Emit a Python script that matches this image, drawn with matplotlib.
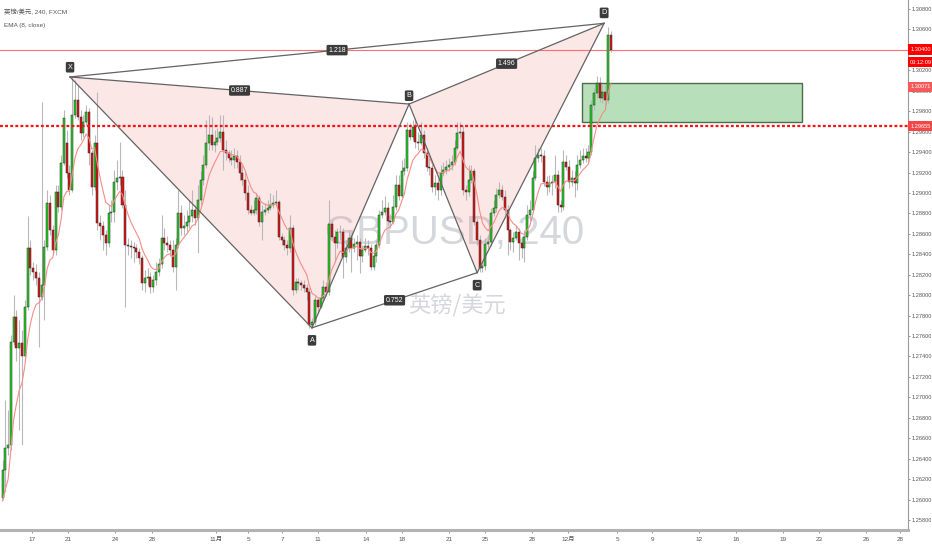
import numpy as np
import matplotlib.pyplot as plt
import matplotlib.transforms as mtransforms
from matplotlib.patches import Polygon, Rectangle

plt.rcParams['font.family'] = ['Liberation Sans', 'Noto Sans CJK SC']

# ---- 4h candles (GBPUSD, FXCM) ----
opens = [1.2602, 1.2629, 1.2650, 1.2653, 1.2754, 1.2779, 1.2748, 1.2753, 1.2740, 1.2788,
         1.2846, 1.2827, 1.2823, 1.2817, 1.2798, 1.2810, 1.2847, 1.2890, 1.2864, 1.2844,
         1.2901, 1.2886, 1.2929, 1.2949, 1.2920, 1.2903, 1.2976, 1.2991, 1.2974, 1.2959,
         1.2969, 1.2979, 1.2939, 1.2906, 1.2949, 1.2871, 1.2868, 1.2859, 1.2851, 1.2880,
         1.2881, 1.2911, 1.2915, 1.2916, 1.2888, 1.2849, 1.2848, 1.2847, 1.2846, 1.2842,
         1.2836, 1.2812, 1.2817, 1.2818, 1.2808, 1.2815, 1.2823, 1.2830, 1.2856, 1.2851,
         1.2849, 1.2844, 1.2828, 1.2849, 1.2880, 1.2866, 1.2868, 1.2872, 1.2877, 1.2883,
         1.2875, 1.2893, 1.2913, 1.2927, 1.2949, 1.2957, 1.2947, 1.2950, 1.2954, 1.2960,
         1.2942, 1.2939, 1.2934, 1.2932, 1.2936, 1.2930, 1.2920, 1.2913, 1.2900, 1.2883,
         1.2880, 1.2883, 1.2895, 1.2872, 1.2881, 1.2883, 1.2885, 1.2888, 1.2890, 1.2891,
         1.2857, 1.2854, 1.2849, 1.2846, 1.2866, 1.2805, 1.2813, 1.2812, 1.2810, 1.2807,
         1.2803, 1.2771, 1.2774, 1.2795, 1.2788, 1.2797, 1.2808, 1.2803, 1.2870, 1.2857,
         1.2851, 1.2862, 1.2862, 1.2837, 1.2846, 1.2856, 1.2846, 1.2850, 1.2852, 1.2838,
         1.2844, 1.2848, 1.2846, 1.2828, 1.2838, 1.2849, 1.2878, 1.2881, 1.2885, 1.2873,
         1.2872, 1.2886, 1.2908, 1.2897, 1.2921, 1.2924, 1.2962, 1.2955, 1.2965, 1.2950,
         1.2949, 1.2957, 1.2939, 1.2925, 1.2924, 1.2906, 1.2910, 1.2903, 1.2920, 1.2922,
         1.2925, 1.2927, 1.2930, 1.2944, 1.2959, 1.2960, 1.2903, 1.2901, 1.2913, 1.2921,
         1.2872, 1.2854, 1.2827, 1.2829, 1.2850, 1.2852, 1.2880, 1.2885, 1.2898, 1.2903,
         1.2896, 1.2883, 1.2864, 1.2852, 1.2856, 1.2862, 1.2851, 1.2846, 1.2857, 1.2878,
         1.2883, 1.2915, 1.2934, 1.2937, 1.2936, 1.2911, 1.2906, 1.2910, 1.2911, 1.2918,
         1.2888, 1.2886, 1.2930, 1.2925, 1.2911, 1.2915, 1.2910, 1.2927, 1.2932, 1.2936,
         1.2934, 1.2940, 1.2986, 1.2998, 1.3008, 1.2993, 1.2999, 1.2991, 1.3055]
closes = [1.2629, 1.2650, 1.2653, 1.2754, 1.2779, 1.2748, 1.2753, 1.2740, 1.2788, 1.2846,
          1.2827, 1.2823, 1.2817, 1.2798, 1.2810, 1.2847, 1.2890, 1.2864, 1.2844, 1.2901,
          1.2886, 1.2929, 1.2973, 1.2920, 1.2903, 1.2976, 1.2991, 1.2974, 1.2959, 1.2969,
          1.2979, 1.2939, 1.2906, 1.2949, 1.2871, 1.2868, 1.2859, 1.2851, 1.2880, 1.2881,
          1.2911, 1.2915, 1.2916, 1.2888, 1.2849, 1.2848, 1.2847, 1.2846, 1.2842, 1.2836,
          1.2812, 1.2817, 1.2818, 1.2808, 1.2815, 1.2823, 1.2830, 1.2856, 1.2851, 1.2849,
          1.2844, 1.2828, 1.2849, 1.2880, 1.2866, 1.2868, 1.2872, 1.2877, 1.2883, 1.2875,
          1.2893, 1.2913, 1.2927, 1.2949, 1.2957, 1.2947, 1.2950, 1.2954, 1.2960, 1.2942,
          1.2939, 1.2934, 1.2932, 1.2936, 1.2930, 1.2920, 1.2913, 1.2900, 1.2883, 1.2880,
          1.2883, 1.2895, 1.2872, 1.2881, 1.2883, 1.2885, 1.2888, 1.2890, 1.2891, 1.2857,
          1.2854, 1.2849, 1.2846, 1.2866, 1.2805, 1.2813, 1.2812, 1.2810, 1.2807, 1.2803,
          1.2771, 1.2774, 1.2795, 1.2788, 1.2797, 1.2808, 1.2803, 1.2870, 1.2857, 1.2851,
          1.2862, 1.2862, 1.2837, 1.2846, 1.2856, 1.2846, 1.2850, 1.2852, 1.2838, 1.2844,
          1.2848, 1.2846, 1.2828, 1.2838, 1.2849, 1.2878, 1.2881, 1.2885, 1.2873, 1.2872,
          1.2886, 1.2908, 1.2897, 1.2921, 1.2924, 1.2962, 1.2955, 1.2965, 1.2950, 1.2949,
          1.2957, 1.2939, 1.2925, 1.2924, 1.2906, 1.2910, 1.2903, 1.2920, 1.2922, 1.2925,
          1.2927, 1.2930, 1.2944, 1.2959, 1.2960, 1.2903, 1.2901, 1.2913, 1.2921, 1.2872,
          1.2854, 1.2827, 1.2829, 1.2850, 1.2852, 1.2880, 1.2885, 1.2898, 1.2903, 1.2896,
          1.2883, 1.2864, 1.2852, 1.2856, 1.2862, 1.2851, 1.2846, 1.2857, 1.2878, 1.2883,
          1.2915, 1.2934, 1.2937, 1.2936, 1.2911, 1.2906, 1.2910, 1.2911, 1.2918, 1.2888,
          1.2886, 1.2930, 1.2925, 1.2911, 1.2915, 1.2910, 1.2927, 1.2932, 1.2936, 1.2934,
          1.2940, 1.2986, 1.2998, 1.3008, 1.2993, 1.2999, 1.2991, 1.3055, 1.3040]
highs = [1.2639, 1.2697, 1.2688, 1.2761, 1.2800, 1.2785, 1.2776, 1.2766, 1.2795, 1.2877,
         1.2854, 1.2832, 1.2830, 1.2823, 1.2989, 1.2854, 1.2903, 1.2898, 1.2869, 1.2908,
         1.2908, 1.2937, 1.2981, 1.2962, 1.2927, 1.3013, 1.3011, 1.3006, 1.2981, 1.2976,
         1.2986, 1.2983, 1.2942, 1.2957, 1.2999, 1.2878, 1.2873, 1.2864, 1.2888, 1.2893,
         1.2922, 1.2932, 1.2950, 1.2922, 1.2903, 1.2856, 1.2854, 1.2852, 1.2850, 1.2846,
         1.2839, 1.2825, 1.2827, 1.2823, 1.2820, 1.2832, 1.2836, 1.2878, 1.2866, 1.2858,
         1.2854, 1.2854, 1.2856, 1.2903, 1.2888, 1.2878, 1.2883, 1.2893, 1.2903, 1.2888,
         1.2908, 1.2921, 1.2937, 1.2971, 1.2976, 1.2974, 1.2962, 1.2964, 1.2976, 1.2976,
         1.2952, 1.2942, 1.2942, 1.2944, 1.2942, 1.2937, 1.2927, 1.2921, 1.2908, 1.2888,
         1.2893, 1.2900, 1.2898, 1.2888, 1.2890, 1.2893, 1.2900, 1.2898, 1.2903, 1.2893,
         1.2861, 1.2858, 1.2854, 1.2878, 1.2869, 1.2817, 1.2817, 1.2815, 1.2815, 1.2811,
         1.2807, 1.2778, 1.2799, 1.2797, 1.2801, 1.2815, 1.2813, 1.2893, 1.2873, 1.2864,
         1.2866, 1.2869, 1.2866, 1.2854, 1.2864, 1.2859, 1.2856, 1.2859, 1.2856, 1.2849,
         1.2856, 1.2854, 1.2850, 1.2844, 1.2854, 1.2883, 1.2893, 1.2897, 1.2891, 1.2879,
         1.2898, 1.2918, 1.2918, 1.2932, 1.2934, 1.2969, 1.2968, 1.2971, 1.2973, 1.2960,
         1.2969, 1.2962, 1.2944, 1.2934, 1.2929, 1.2918, 1.2915, 1.2927, 1.2930, 1.2932,
         1.2934, 1.2937, 1.2952, 1.2969, 1.2969, 1.2966, 1.2908, 1.2927, 1.2927, 1.2924,
         1.2875, 1.2859, 1.2832, 1.2856, 1.2859, 1.2885, 1.2893, 1.2905, 1.2911, 1.2908,
         1.2903, 1.2888, 1.2866, 1.2862, 1.2869, 1.2866, 1.2856, 1.2864, 1.2888, 1.2893,
         1.2921, 1.2947, 1.2944, 1.2944, 1.2942, 1.2917, 1.2918, 1.2918, 1.2937, 1.2922,
         1.2893, 1.2942, 1.2937, 1.2932, 1.2922, 1.2921, 1.2937, 1.2942, 1.2944, 1.2944,
         1.2947, 1.2991, 1.3003, 1.3014, 1.3013, 1.3006, 1.3006, 1.3062, 1.3058]
lows = [1.2600, 1.2607, 1.2644, 1.2648, 1.2751, 1.2736, 1.2668, 1.2653, 1.2736, 1.2785,
        1.2820, 1.2815, 1.2810, 1.2749, 1.2795, 1.2776, 1.2844, 1.2859, 1.2839, 1.2839,
        1.2881, 1.2883, 1.2927, 1.2915, 1.2898, 1.2901, 1.2973, 1.2971, 1.2952, 1.2955,
        1.2966, 1.2927, 1.2898, 1.2903, 1.2864, 1.2854, 1.2844, 1.2839, 1.2847, 1.2872,
        1.2872, 1.2903, 1.2908, 1.2885, 1.2788, 1.2839, 1.2836, 1.2832, 1.2836, 1.2830,
        1.2805, 1.2803, 1.2810, 1.2802, 1.2803, 1.2810, 1.2819, 1.2827, 1.2844, 1.2842,
        1.2838, 1.2823, 1.2805, 1.2846, 1.2859, 1.2859, 1.2862, 1.2866, 1.2872, 1.2869,
        1.2841, 1.2888, 1.2908, 1.2924, 1.2942, 1.2942, 1.2940, 1.2947, 1.2950, 1.2922,
        1.2932, 1.2930, 1.2927, 1.2924, 1.2924, 1.2913, 1.2908, 1.2893, 1.2879, 1.2878,
        1.2878, 1.2879, 1.2868, 1.2854, 1.2878, 1.2880, 1.2883, 1.2885, 1.2887, 1.2854,
        1.2849, 1.2844, 1.2839, 1.2842, 1.2800, 1.2802, 1.2805, 1.2805, 1.2803, 1.2795,
        1.2768, 1.2769, 1.2771, 1.2783, 1.2787, 1.2795, 1.2799, 1.2800, 1.2854, 1.2832,
        1.2846, 1.2854, 1.2817, 1.2832, 1.2842, 1.2823, 1.2842, 1.2834, 1.2822, 1.2832,
        1.2842, 1.2839, 1.2825, 1.2825, 1.2832, 1.2846, 1.2875, 1.2878, 1.2869, 1.2866,
        1.2870, 1.2883, 1.2893, 1.2895, 1.2918, 1.2921, 1.2952, 1.2952, 1.2944, 1.2942,
        1.2947, 1.2934, 1.2921, 1.2918, 1.2901, 1.2898, 1.2893, 1.2898, 1.2917, 1.2919,
        1.2921, 1.2922, 1.2927, 1.2942, 1.2954, 1.2898, 1.2893, 1.2897, 1.2910, 1.2869,
        1.2849, 1.2823, 1.2823, 1.2825, 1.2846, 1.2848, 1.2877, 1.2881, 1.2895, 1.2893,
        1.2878, 1.2839, 1.2844, 1.2842, 1.2854, 1.2834, 1.2836, 1.2832, 1.2854, 1.2873,
        1.2881, 1.2913, 1.2930, 1.2930, 1.2907, 1.2898, 1.2901, 1.2898, 1.2905, 1.2881,
        1.2881, 1.2883, 1.2922, 1.2905, 1.2907, 1.2896, 1.2903, 1.2924, 1.2929, 1.2930,
        1.2930, 1.2937, 1.2981, 1.2993, 1.2989, 1.2988, 1.2981, 1.2988, 1.3038]
ema_start = 1.2590   # EMA(8) value just before the first visible bar

# date axis (bar index of each day label)
tick_pos = [10.6, 23.5, 40.3, 53.6, 76.5, 88.0, 100.2, 113.1, 130.3, 143.2, 160.0,
            172.9, 189.8, 202.7, 220.3, 232.8, 249.6, 262.9, 279.8, 292.7, 309.5, 321.7]
tick_labels = ['17', '21', '24', '28', '11月', '5', '7', '11', '14', '18', '21',
               '25', '28', '12月', '5', '9', '12', '16', '19', '23', '26', '28']
price_ticks = [1.258 + 0.002 * k for k in range(26)]

# harmonic pattern X-A-B-C-D
pattern_names = ['X', 'A', 'B', 'C', 'D']
pattern_bars = [24.2, 110.9, 145.7, 170.1, 215.6]
pattern_prices = [1.30135, 1.27680, 1.29870, 1.28220, 1.30660]
ratio_labels = ['1.218', '0.887', '1.496', '0.752']
ratio_legs = [(0, 4), (0, 2), (2, 4), (1, 3)]

# target zone
zone_bars = [207.7, 286.6]
zone_prices = [1.29694, 1.30076]

last_price = 1.30400
alert_price = 1.29655
ema_tag = '1.30071'
countdown = '03:12:09'

# ---- figure ----
fig = plt.figure(figsize=(9.32, 5.5), dpi=100)
ax = fig.add_axes([0, 20 / 550, 908 / 932, 530 / 550])
ax.set_xlim(-0.9, 324.5)
ax.set_ylim(1.25702, 1.30888)

# watermark
ax.text(0.501, 0.560, 'GBPUSD, 240', transform=ax.transAxes, ha='center', va='center',
        fontsize=29, color='#d6d7dc', zorder=0)
ax.text(0.503, 0.423, '英镑/美元', transform=ax.transAxes, ha='center', va='center',
        fontsize=16, color='#d6d7dc', zorder=0, family=['Noto Sans CJK SC'])

# pattern triangles
pts = list(zip(pattern_bars, pattern_prices))
ax.add_patch(Polygon([pts[0], pts[1], pts[2]], closed=True, fc='#f28b8b', alpha=0.2, ec='none', zorder=1))
ax.add_patch(Polygon([pts[2], pts[3], pts[4]], closed=True, fc='#f28b8b', alpha=0.2, ec='none', zorder=1))

# zone
ax.add_patch(Rectangle((zone_bars[0], zone_prices[0]), zone_bars[1] - zone_bars[0],
                       zone_prices[1] - zone_prices[0], fc='#b7dfb9', ec='#4d6b4d', lw=1, zorder=2))

ax.axhline(last_price, color='#ff6f6f', lw=0.8, zorder=2)

# candles
x = np.arange(len(closes))
o = np.array(opens)
c = np.array(closes)
up = c >= o
ax.vlines(x, lows, highs, color='#b8b8b8', lw=0.8, zorder=3)
ax.bar(x[up], (c - o)[up], bottom=o[up], width=0.72, color='#22d322', edgecolor='#2b2b2b', lw=0.35, zorder=4)
ax.bar(x[~up], (c - o)[~up], bottom=o[~up], width=0.72, color='#e11414', edgecolor='#2b2b2b', lw=0.35, zorder=4)

# EMA(8, close)
ema = []
e = ema_start
for v in closes:
    e = e + 2 / 9 * (v - e)
    ema.append(e)
ax.plot(x, ema, color='#f58d86', lw=0.8, zorder=5)

ax.axhline(alert_price, color='#ff1010', lw=1.6, ls=(0, (1.3, 1.0)), zorder=6)

# pattern legs
for i, j in [(0, 1), (1, 2), (2, 3), (3, 4), (0, 2), (1, 3), (2, 4), (0, 4)]:
    ax.plot([pattern_bars[i], pattern_bars[j]], [pattern_prices[i], pattern_prices[j]],
            color='#636363', lw=0.9, zorder=7)

box = dict(boxstyle='round,pad=0.25,rounding_size=0.2', fc='#3b3b3b', ec='none')
for name, b, p, dy in zip(pattern_names, pattern_bars, pattern_prices, [7, -9, 6, -9, 7.5]):
    ax.annotate(name, (b, p), xytext=(0, dy), textcoords='offset points', ha='center', va='center',
                fontsize=5.2, color='white', bbox=box, zorder=9)
for lab, (i, j) in zip(ratio_labels, ratio_legs):
    ax.text((pattern_bars[i] + pattern_bars[j]) / 2, (pattern_prices[i] + pattern_prices[j]) / 2, lab,
            ha='center', va='center', fontsize=5, color='white', bbox=box, zorder=9)

# axes styling
for s in ['top', 'left']:
    ax.spines[s].set_visible(False)
ax.spines['right'].set_color('#9a9a9a')
ax.spines['right'].set_linewidth(0.8)
ax.spines['bottom'].set_color('#b3b3b3')
ax.spines['bottom'].set_linewidth(2.2)
ax.yaxis.tick_right()
ax.set_yticks(price_ticks)
ax.set_yticklabels([f'{v:.5f}' for v in price_ticks])
ax.tick_params(axis='y', length=1.5, width=0.6, color='#888888', labelcolor='#555555', labelsize=4.1, pad=1)
ax.set_xticks(tick_pos)
ax.set_xticklabels(tick_labels)
ax.tick_params(axis='x', length=2, width=0.6, color='#888888', labelcolor='#555555', labelsize=4.6, pad=3)

# price tags on the scale
trans = mtransforms.blended_transform_factory(ax.transAxes, ax.transData)
tag_h = 0.00106
for val, txt, col in [(last_price, f'{last_price:.5f}', '#ff0000'),
                      (1.30281, countdown, '#ff0000'),
                      (1.30037, ema_tag, '#f55a5a'),
                      (alert_price, f'{alert_price:.5f}', '#f44848')]:
    ax.add_patch(Rectangle((1.0, val - tag_h / 2), 24 / 908, tag_h, transform=trans,
                           fc=col, ec='none', clip_on=False, zorder=10))
    ax.text(1.0 + 12.5 / 908, val, txt, transform=trans, ha='center', va='center', fontsize=4.1,
            color='white', clip_on=False, zorder=11)

fig.text(0.004, 1 - 12 / 550, '英镑/美元, 240, FXCM', fontsize=4.6, color='#555555', va='center')
fig.text(0.004, 1 - 25 / 550, 'EMA (8, close)', fontsize=4.6, color='#555555', va='center')

fig.savefig('out.png', dpi=100)
